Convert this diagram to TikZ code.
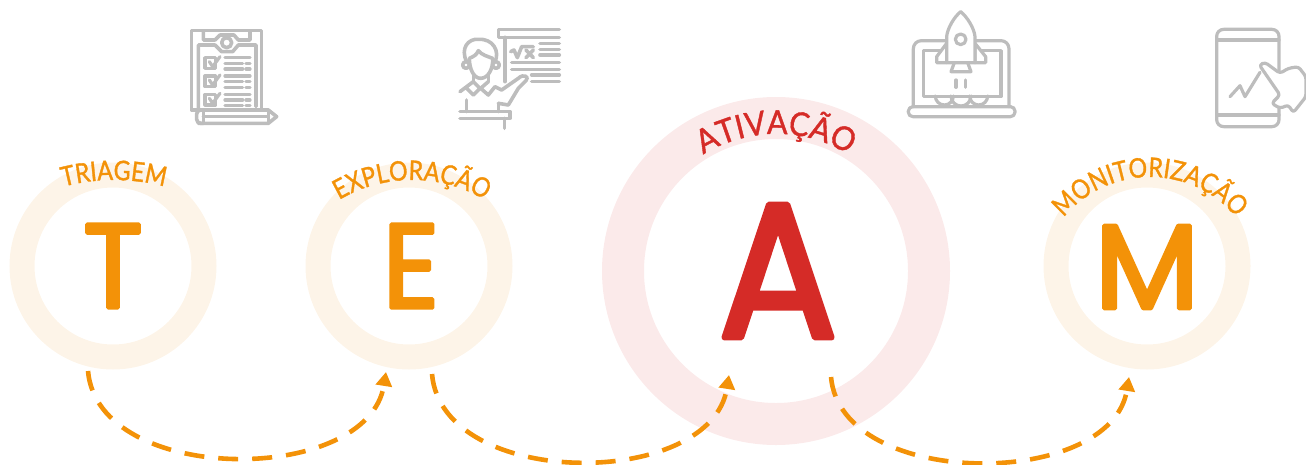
\documentclass[tikz,border=0pt]{standalone}
\usepackage{fontspec}
\usetikzlibrary{arrows.meta,decorations.text}
\setmainfont{Lato}
\newfontfamily\bigfont[FakeBold=3,FakeStretch=0.92]{Poppins}
\newfontfamily\labfont[FakeBold=1.2,FakeStretch=0.86]{Lato}
\newfontfamily\labfontA[FakeBold=1.2,FakeStretch=0.92]{Lato}
\definecolor{orng}{HTML}{F39208}
\definecolor{rd}{HTML}{D52B27}
\definecolor{ringo}{HTML}{FDF4E8}
\definecolor{ringr}{HTML}{FBEAEA}
\definecolor{icn}{HTML}{BDBDBD}
\tikzset{
  ringo/.style={circle,draw=ringo,line width=25pt,minimum size=182pt,inner sep=0pt,outer sep=0pt},
  ringr/.style={circle,draw=ringr,line width=42pt,minimum size=306pt,inner sep=0pt,outer sep=0pt},
  bigo/.style={text=orng,line join=round,inner sep=0pt,font=\bigfont\fontsize{120}{120}\selectfont},
  bigr/.style={text=rd,line join=round,inner sep=0pt,font=\bigfont\fontsize{192}{192}\selectfont},
  hop/.style={draw=orng,line width=4.6pt,dash pattern=on 20pt off 14pt,-{Triangle[length=14pt,width=16pt]}},
  icon/.style={draw=icn,line width=3.6pt,line join=round,line cap=round},
  iconthin/.style={draw=icn,line width=3.2pt,line join=round,line cap=round},
  iconfill/.style={iconthin,fill=white},
  zoomed/.style={x=0.3333pt,y=-0.3333pt}
}
\begin{document}
\begin{tikzpicture}[x=1pt,y=-1pt]
\useasboundingbox (0,0) rectangle (1306,464);
% rings
\node[ringo] (rT) at (113,266) {};
\node[ringo] (rE) at (409,266) {};
\node[ringr] (rA) at (776,271) {};
\node[ringo] (rM) at (1147,266) {};
% big letters
\node[bigo] (T) at (113,266) {T};
\node[bigo] (E) at (411,266) {E};
\node[bigr] (A) at (778,271) {A};
\node[bigo] (M) at (1147,267) {\scalebox{1.1}[1]{M}};
% curved labels
\path[decorate,decoration={text along path,text align=center,text={|\labfont\fontsize{27}{27}\selectfont\color{orng}|TRIAGEM}}]
  (114,376) ++(105:196pt) arc[start angle=105,end angle=75,radius=196pt];
\path[decorate,decoration={text along path,text align=center,text={|\labfont\fontsize{27}{27}\selectfont\color{orng}|EXPLORAÇÃO}}]
  (412,323) ++(125:143pt) arc[start angle=125,end angle=55,radius=143pt];
\path[decorate,decoration={text along path,text align=center,text={|\labfontA\fontsize{33}{33}\selectfont\color{rd}|ATIVAÇÃO}}]
  (776,272) ++(130:138pt) arc[start angle=130,end angle=50,radius=138pt];
\path[decorate,decoration={text along path,text align=center,text={|\labfont\fontsize{27}{27}\selectfont\color{orng}|MONITORIZAÇÃO}}]
  (1150,289) ++(145:112pt) arc[start angle=145,end angle=35,radius=112pt];
% connectors
\coordinate (s1) at (88,371);
\coordinate (e1) at (386,372);
\coordinate (s2) at (432,374);
\coordinate (e2) at (729,375);
\coordinate (s3) at (831,377);
\coordinate (e3) at (1129,377);
\draw[hop] (s1) .. controls (98,486) and (368,486) .. (e1);
\draw[hop] (s2) .. controls (442,490) and (711,490) .. (e2);
\draw[hop] (s3) .. controls (841,490) and (1111,490) .. (e3);
% icon 1
\begin{scope}[shift={(170,10)},zoomed]
\draw[icon] (85,300) -- (65,300) -- (65,62) -- (275,62) -- (275,300);
\draw[icon] (85,295) -- (85,105) -- (135,105) -- (155,125) -- (188,125) -- (205,105) -- (258,105) -- (258,290);
\draw[icon] (100,65) -- (100,90) -- (135,90) -- (150,75) -- (192,75) -- (205,90) -- (240,90) -- (240,65);
\draw[icon] (170,98) circle[radius=15];
\foreach \d in {0,55,110}{
  \draw[iconthin] (105,143+\d) rectangle (137,175+\d);
  \draw[iconthin] (118,155+\d) -- (128,170+\d) -- (150,140+\d);
  \draw[iconthin] (165,143+\d) -- (240,143+\d) (165,160+\d) -- (218,160+\d) (228,160+\d) -- (240,160+\d) (165,177+\d) -- (218,177+\d) (228,177+\d) -- (240,177+\d);
}
\draw[icon,rounded corners=4pt] (100,300) -- (80,300) -- (80,340) -- (100,340);
\draw[icon] (85,300) -- (295,300) -- (320,320) -- (295,340) -- (85,340);
\draw[icon] (100,300) -- (100,340) (100,320) -- (295,320) (295,300) -- (295,340);
\end{scope}
% icon 2
\begin{scope}[shift={(440,10)},zoomed]
\draw[icon] (358,58) -- (175,58) -- (175,82) -- (358,82);
\draw[icon] (195,82) -- (195,215);
\draw[icon] (212,125) -- (222,120) -- (232,143) -- (245,110) -- (280,110);
\draw[icon] (258,120) -- (280,143) (280,120) -- (258,143);
\draw[icon] (300,100) -- (358,100) (300,118) -- (358,118) (300,135) -- (358,135);
\draw[icon] (215,158) -- (358,158) (215,178) -- (358,178) (275,195) -- (358,195) (275,215) -- (358,215);
\draw[icon] (80,155) .. controls (60,115) and (85,85) .. (115,88) .. controls (160,85) and (180,125) .. (165,155);
\draw[icon] (88,145) .. controls (100,140) and (110,135) .. (115,122) .. controls (125,135) and (145,140) .. (158,145) .. controls (160,175) and (145,205) .. (122,205) .. controls (100,205) and (88,175) .. (88,145);
\draw[icon] (78,165) circle[radius=10] (168,165) circle[radius=10];
\draw[icon] (100,195) -- (100,215) (145,195) -- (145,215);
\draw[icon] (60,245) -- (100,215) -- (120,235) -- (100,255) -- (80,235);
\draw[icon] (145,215) -- (122,235) -- (145,255) -- (165,230) -- (185,240) -- (235,205) .. controls (250,190) and (270,200) .. (258,212) -- (235,235) -- (205,285) -- (175,280);
\draw[icon] (60,305) -- (210,305) -- (210,325) -- (60,325);
\draw[icon] (80,270) -- (80,305) (175,280) -- (175,305) (193,325) -- (193,355);
\end{scope}
% icon 3
\begin{scope}[shift={(895,0)},zoomed]
\draw[iconthin,rounded corners=8pt] (55,320) -- (55,122) -- (342,122) -- (342,320);
\draw[iconthin] (85,152) rectangle (318,290);
\draw[iconthin,rounded corners=4.5pt] (40,320) rectangle (360,350);
\draw[iconfill] (155,130) -- (125,170) -- (125,188) -- (155,188) -- cycle;
\draw[iconfill] (240,130) -- (272,170) -- (272,188) -- (240,188) -- cycle;
\draw[iconfill] (178,188) -- (168,215) -- (228,215) -- (218,188);
\draw[iconfill] (155,188) -- (155,110) .. controls (157,85) and (178,50) .. (197,35) .. controls (216,50) and (238,85) .. (240,110) -- (240,188) -- cycle;
\draw[iconthin] (197,118) circle[radius=16];
\draw[iconthin] (183,240) -- (183,262) (212,240) -- (212,262);
\draw[iconthin] (121,288) arc[start angle=180,end angle=0,radius=27];
\draw[iconthin] (168,288) arc[start angle=180,end angle=0,radius=30];
\draw[iconthin] (224,288) arc[start angle=180,end angle=0,radius=27];
\end{scope}
% icon 4
\begin{scope}[shift={(1200,15)},zoomed]
\draw[iconthin,rounded corners=7pt] (50,43) rectangle (237,335);
\draw[iconthin] (50,75) -- (237,75) (50,300) -- (237,300);
\draw[iconthin] (90,245) -- (120,212) -- (135,245) -- (180,172);
\draw[iconfill,rounded corners=3pt] (178,150) -- (195,142) -- (240,175) -- (265,160) -- (295,155) -- (318,185) -- (318,245) -- (280,293) -- (265,270) -- (240,280) -- (215,265) -- (240,240) -- cycle;
\end{scope}
\end{tikzpicture}
\end{document}
